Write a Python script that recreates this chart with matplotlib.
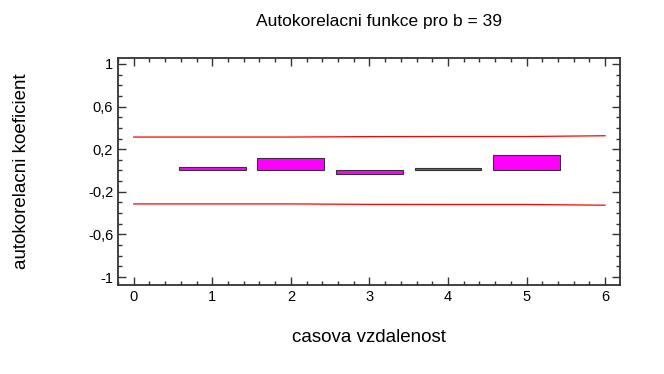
import matplotlib
matplotlib.use("Agg")
import matplotlib.pyplot as plt
from matplotlib.ticker import MultipleLocator, FuncFormatter

# autocorrelation coefficients for lags 1..5
lags = [1, 2, 3, 4, 5]
acf = [0.033, 0.116, -0.033, 0.028, 0.149]

# confidence limits (Bartlett) along lag 0..6
band_x = [0, 1, 2, 3, 4, 5, 6]
band_upper = [0.314, 0.314, 0.314, 0.318, 0.319, 0.319, 0.326]
band_lower = [-0.314, -0.314, -0.314, -0.318, -0.319, -0.319, -0.326]

yticks = [-1, -0.6, -0.2, 0.2, 0.6, 1]
xticks = [0, 1, 2, 3, 4, 5, 6]

plt.rcParams["font.family"] = ["Liberation Sans", "DejaVu Sans"]

fig = plt.figure(figsize=(6.64, 3.74), dpi=100)
ax = fig.add_axes([118 / 664, 1 - 285 / 374, (620 - 118) / 664, (285 - 58) / 374])

ax.bar(lags, acf, width=0.85, color="#ff00ff", edgecolor="#333333", linewidth=0.8, zorder=3)
ax.plot(band_x, band_upper, color="red", linewidth=0.9, zorder=2)
ax.plot(band_x, band_lower, color="red", linewidth=0.9, zorder=2)

ax.set_xlim(-0.2, 6.19)
ax.set_ylim(-1.075, 1.056)
ax.set_xticks(xticks)
ax.set_yticks(yticks)
ax.xaxis.set_minor_locator(MultipleLocator(0.2))
ax.yaxis.set_minor_locator(MultipleLocator(0.1))
ax.yaxis.set_major_formatter(FuncFormatter(lambda v, p: ("%g" % v).replace(".", ",")))

ax.tick_params(which="both", direction="in", top=True, right=True, colors="#333333",
               labelcolor="black", labelsize=10.5)
ax.tick_params(which="major", length=6, width=1)
ax.tick_params(which="minor", length=3, width=1)
for s in ax.spines.values():
    s.set_color("#333333")
    s.set_linewidth(1.3)

ax.set_title("Autokorelacni funkce pro b = 39", fontsize=12.5, pad=23, x=0.52)
ax.set_xlabel("casova vzdalenost", fontsize=13.5, labelpad=18)
ax.set_ylabel("autokorelacni koeficient", fontsize=13.5, labelpad=42)

fig.savefig("out.png", dpi=100)
